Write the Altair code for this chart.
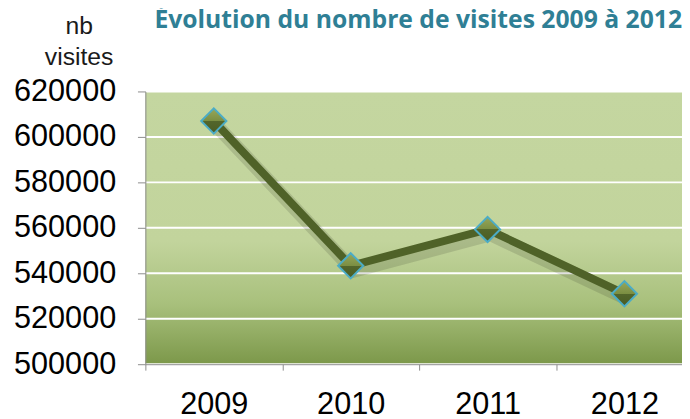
import altair as alt
import pandas as pd

years = ["2009", "2010", "2011", "2012"]
visits = [607000, 543300, 559300, 531000]
y_ticks = [500000, 520000, 540000, 560000, 580000, 600000, 620000]
title_text = "Évolution du nombre de visites 2009 à 2012"
y_title = ["nb", "visites"]

df = pd.DataFrame({"year": years, "visits": visits})
grid_df = pd.DataFrame({"visits": y_ticks})
one = pd.DataFrame({"a": [0]})

W, H = 543, 276

xscale = alt.Scale(type="band", domain=years, range=[0, 554], paddingInner=0, paddingOuter=0)
yscale = alt.Scale(domain=[500000, 620000], nice=False, zero=False)

bg_grad = alt.LinearGradient(
    gradient="linear", x1=0, y1=0, x2=0, y2=1,
    stops=[
        alt.GradientStop(offset=0, color="#c4d6a0"),
        alt.GradientStop(offset=0.55, color="#c2d49c"),
        alt.GradientStop(offset=0.78, color="#a8c07c"),
        alt.GradientStop(offset=1, color="#7c984a"),
    ],
)
marker_grad = alt.LinearGradient(
    gradient="linear", x1=0, y1=0, x2=0, y2=1,
    stops=[
        alt.GradientStop(offset=0, color="#97a85c"),
        alt.GradientStop(offset=0.5, color="#7b8e42"),
        alt.GradientStop(offset=0.5, color="#53662b"),
        alt.GradientStop(offset=1, color="#4a5c24"),
    ],
)

yaxis = alt.Axis(
    values=y_ticks, format="d", title=None, labelFontSize=31,
    labelFont="Liberation Sans", labelColor="#000000", tickSize=8,
    tickColor="#8c8c8c", domainColor="#8c8c8c", labelPadding=22,
    grid=False, zindex=1,
)
xaxis = alt.Axis(
    title=None, labelAngle=0, labelFontSize=31, labelFont="Liberation Sans",
    labelColor="#000000", tickBand="extent", tickSize=6, tickColor="#8c8c8c",
    domainColor="#8c8c8c", labelPadding=20, grid=False, zindex=1,
)

bg = alt.Chart(one).mark_rect(color=bg_grad).encode(
    x=alt.value(0), x2=alt.value(W), y=alt.value(0), y2=alt.value(H)
)

grid = alt.Chart(grid_df).mark_rule(color="white", strokeWidth=2).encode(
    y=alt.Y("visits:Q", scale=yscale, axis=yaxis),
    x=alt.value(0), x2=alt.value(W),
)

xenc = alt.X("year:N", scale=xscale, bandPosition=0.5, sort=years, axis=xaxis)
yenc = alt.Y("visits:Q", scale=yscale, axis=yaxis)

base = alt.Chart(df)
shadow = base.mark_line(color="black", strokeWidth=14, opacity=0.12, xOffset=3, yOffset=5).encode(
    x=xenc, y=yenc
)
line = base.mark_line(color="#4f6228", strokeWidth=8).encode(x=xenc, y=yenc)
points = base.mark_point(
    shape="diamond", filled=True, size=650, fill=marker_grad, stroke="#4bacc6",
    strokeWidth=2, opacity=1,
).encode(x=xenc, y=yenc)

title = alt.Chart(one).mark_text(
    text=title_text, font="Open Sans", fontWeight="bold", fontSize=25,
    color="#2f7f95", align="right", baseline="alphabetic",
).encode(x=alt.value(543), y=alt.value(-64))

ytitle = alt.Chart(one).mark_text(
    text=y_title, font="Liberation Sans", fontSize=25, color="#1a1a1a",
    align="center", baseline="alphabetic", lineHeight=31,
).encode(x=alt.value(-67), y=alt.value(-58))

chart = alt.layer(bg, grid, shadow, line, points, title, ytitle).properties(
    width=W, height=H,
    autosize=alt.AutoSizeParams(type="none"),
    padding={"left": 139, "top": 82, "right": 0, "bottom": 53},
).configure_view(stroke=None)

chart.save("out.html", embed_options={"renderer": "svg", "actions": False})
